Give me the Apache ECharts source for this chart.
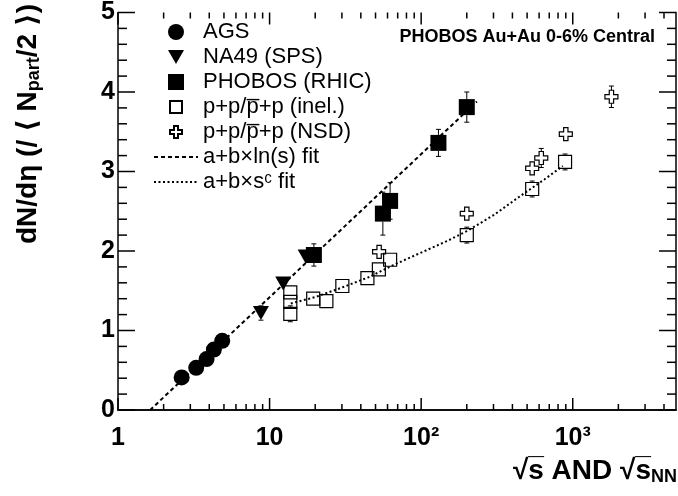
<!DOCTYPE html>
<html>
<head>
<meta charset="utf-8">
<script src="https://cdn.jsdelivr.net/npm/echarts@6/dist/echarts.min.js"></script>
<style>
  html, body { margin: 0; background: #fff; }
  #chart { width: 678px; height: 496px; }
</style>
</head>
<body>
<div id="chart"></div>
<script>
// values (x = sqrt(s) in GeV, y = dN/deta per participant pair)
const agsS = [2.63, 3.28, 3.84, 4.29, 4.87];
const agsY = [0.41, 0.53, 0.64, 0.76, 0.87];

const na49S = [8.77, 12.3, 17.3];
const na49Y = [1.22, 1.59, 1.93];
const na49Err = [0.09, 0.08, 0.08];

const phobosS = [19.6, 55.9, 62.4, 130, 200];
const phobosY = [1.95, 2.47, 2.63, 3.36, 3.81];
const phobosErr = [0.14, 0.27, 0.23, 0.17, 0.19];

const inelS = [13.7, 13.7, 13.7, 19.4, 23.7, 30.2, 44.2, 52.6, 62.4, 200, 540, 890];
const inelY = [1.48, 1.36, 1.21, 1.40, 1.37, 1.56, 1.66, 1.77, 1.89, 2.20, 2.78, 3.12];
const inelErr = [0.08, 0.08, 0.10, 0.08, 0.07, 0.08, 0.08, 0.08, 0.08, 0.10, 0.10, 0.10];

const nsdS = [52.8, 200, 540, 620, 900, 1800];
const nsdY = [1.99, 2.47, 3.04, 3.17, 3.47, 3.94];
const nsdErr = [0.07, 0.07, 0.08, 0.12, 0.08, 0.135];

const lnFitS = [1.63, 233];
const lnFitY = [0, 3.88];

const powFitS = [13.8, 20, 30, 45, 65, 100, 150, 200, 300, 450, 650, 860];
const powFitY = [1.34, 1.42, 1.54, 1.67, 1.82, 1.98, 2.13, 2.25, 2.45, 2.69, 2.90, 3.07];

const xMajorTicks = [1, 10, 100, 1000];
const xMajorLabels = ['1', '10', '10\u00b2', '10\u00b3'];
const xMinorTicks = [2, 3, 4, 5, 6, 7, 8, 9, 20, 30, 40, 50, 60, 70, 80, 90,
  200, 300, 400, 500, 600, 700, 800, 900, 2000, 3000, 4000];
const yMajorTicks = [0, 1, 2, 3, 4, 5];
const yMinorTicks = [0.2, 0.4, 0.6, 0.8, 1.2, 1.4, 1.6, 1.8, 2.2, 2.4, 2.6, 2.8,
  3.2, 3.4, 3.6, 3.8, 4.2, 4.4, 4.6, 4.8];

const legendNames = ['AGS', 'NA49 (SPS)', 'PHOBOS (RHIC)', 'p+p/p\u0305+p (inel.)',
  'p+p/p\u0305+p (NSD)', 'a+b\u00d7ln(s) fit', 'a+b\u00d7s\u1d9c fit'];

const font = 'Liberation Sans, Arial, Helvetica, DejaVu Sans, sans-serif';

function pairs(xs, ys) {
  return xs.map((x, i) => [x, ys[i]]);
}

// vertical error bars drawn outside the marker, with small caps
function errorBars(xs, ys, errs, gap) {
  return {
    type: 'custom',
    silent: true,
    z: 1,
    data: xs.map((x, i) => [x, ys[i], errs[i]]),
    renderItem: function (params, api) {
      const x = api.value(0), y = api.value(1), e = api.value(2);
      const c = api.coord([x, y]);
      const hi = api.coord([x, y + e]);
      const lo = api.coord([x, y - e]);
      const style = { stroke: '#000', lineWidth: 1 };
      const kids = [];
      if (c[1] - gap > hi[1]) {
        kids.push({ type: 'line', shape: { x1: c[0], y1: c[1] - gap, x2: c[0], y2: hi[1] }, style: style });
        kids.push({ type: 'line', shape: { x1: c[0] - 2.5, y1: hi[1], x2: c[0] + 2.5, y2: hi[1] }, style: style });
      }
      if (lo[1] > c[1] + gap) {
        kids.push({ type: 'line', shape: { x1: c[0], y1: c[1] + gap, x2: c[0], y2: lo[1] }, style: style });
        kids.push({ type: 'line', shape: { x1: c[0] - 2.5, y1: lo[1], x2: c[0] + 2.5, y2: lo[1] }, style: style });
      }
      return { type: 'group', children: kids };
    }
  };
}

// ROOT style inward ticks on all four sides of the frame
function xTicks(values, len) {
  return {
    type: 'custom', silent: true, z: 2,
    data: values.map(v => [v, 0]),
    renderItem: function (params, api) {
      const cs = params.coordSys;
      const x = api.coord([api.value(0), 0])[0];
      const style = { stroke: '#000', lineWidth: 1.5 };
      return {
        type: 'group', children: [
          { type: 'line', shape: { x1: x, y1: cs.y + cs.height, x2: x, y2: cs.y + cs.height - len }, style: style },
          { type: 'line', shape: { x1: x, y1: cs.y, x2: x, y2: cs.y + len }, style: style }
        ]
      };
    }
  };
}
function yTicks(values, len) {
  return {
    type: 'custom', silent: true, z: 2,
    data: values.map(v => [1, v]),
    renderItem: function (params, api) {
      const cs = params.coordSys;
      const y = api.coord([1, api.value(1)])[1];
      const style = { stroke: '#000', lineWidth: 1.5 };
      return {
        type: 'group', children: [
          { type: 'line', shape: { x1: cs.x, y1: y, x2: cs.x + len, y2: y }, style: style },
          { type: 'line', shape: { x1: cs.x + cs.width, y1: y, x2: cs.x + cs.width - len, y2: y }, style: style }
        ]
      };
    }
  };
}

const triPath = 'path://M0,0L16,0L8,14Z';
const crossPath = 'path://M4,0H8V4H12V8H8V12H4V8H0V4H4Z';
const filled = { color: '#000', opacity: 1 };
const hollow = { color: 'rgba(0,0,0,0)', borderColor: '#000', borderWidth: 1.2, opacity: 1 };
const frameLine = { show: true, lineStyle: { color: '#000', width: 1.5 } };

const chart = echarts.init(document.getElementById('chart'));

const logAxis = {
  type: 'log', logBase: 10, min: 1, max: 4800, gridIndex: 0,
  splitLine: { show: false },
  axisLine: frameLine,
  axisTick: { show: false }
};
const yBase = {
  type: 'value', min: 0, max: 5, interval: 1,
  splitLine: { show: false },
  axisLine: frameLine,
  axisTick: { show: false },
  minorTick: { show: false }
};

chart.setOption({
  animation: false,
  backgroundColor: '#fff',
  grid: { left: 118, right: 2, top: 8, bottom: 86 },
  xAxis: [
    Object.assign({}, logAxis, {
      position: 'bottom',
      axisLabel: {
        margin: 16,
        customValues: xMajorTicks,
        color: '#000', fontSize: 25, fontWeight: 'bold', fontFamily: font,
        formatter: function (v) {
          const i = xMajorTicks.indexOf(Math.round(v));
          return i >= 0 ? xMajorLabels[i] : '';
        }
      }
    }),
    Object.assign({}, logAxis, {
      position: 'top',
      axisLabel: { show: false }
    })
  ],
  yAxis: [
    Object.assign({}, yBase, {
      position: 'left',
      axisLabel: { margin: 3, color: '#000', fontSize: 25, fontWeight: 'bold', fontFamily: font }
    }),
    Object.assign({}, yBase, {
      position: 'right',
      axisLabel: { show: false }
    })
  ],
  legend: {
    orient: 'vertical',
    left: 153, top: 21,
    padding: 0,
    itemWidth: 44, itemHeight: 16, itemGap: 3,
    selectedMode: false,
    textStyle: { fontSize: 22, fontFamily: font, color: '#000' },
    data: [
      { name: legendNames[0], icon: 'circle' },
      { name: legendNames[1], icon: 'path://M0,-1M0,0L16,0L8,14ZM0,15' },
      { name: legendNames[2], icon: 'path://M0,0H16V16H0Z' },
      { name: legendNames[3], icon: 'path://M0,0M16,16M2,2H14V14H2Z' },
      { name: legendNames[4], icon: 'path://M0,0M16,16M6,2H10V6H14V10H10V14H6V10H2V6H6Z' },
      { name: legendNames[5] },
      { name: legendNames[6] }
    ]
  },
  graphic: [
    {
      type: 'text', x: 28, y: 4, rotation: Math.PI / 2,
      style: {
        text: 'dN/d\u03b7 (/ \u27e8 N{sub|part}/2 \u27e9)',
        fontSize: 28, fontWeight: 'bold', fontFamily: font, fill: '#000',
        align: 'right', verticalAlign: 'middle',
        rich: { sub: { fontSize: 18, fontWeight: 'bold', fontFamily: font, fill: '#000', padding: [13, 0, 0, 0] } }
      }
    },
    {
      type: 'text', x: 677, y: 471,
      style: {
        text: '\u221as\u0305 AND \u221as\u0305{sub|NN}',
        fontSize: 28, fontWeight: 'bold', fontFamily: font, fill: '#000',
        align: 'right', verticalAlign: 'middle',
        rich: { sub: { fontSize: 18, fontWeight: 'bold', fontFamily: font, fill: '#000', padding: [13, 0, 0, 0] } }
      }
    },
    {
      type: 'text', x: 655, y: 37,
      style: {
        text: 'PHOBOS Au+Au 0-6% Central',
        fontSize: 18, fontWeight: 'bold', fontFamily: font, fill: '#000',
        align: 'right', verticalAlign: 'middle'
      }
    }
  ],
  series: [
    xTicks(xMajorTicks, 12),
    xTicks(xMinorTicks, 6),
    yTicks(yMajorTicks, 17),
    yTicks(yMinorTicks, 9),
    {
      name: legendNames[5], type: 'line', data: pairs(lnFitS, lnFitY),
      symbol: 'none', silent: true, z: 1,
      itemStyle: { color: 'rgba(0,0,0,0)' },
      lineStyle: { color: '#000', width: 2, type: [4, 3] }
    },
    {
      name: legendNames[6], type: 'line', data: pairs(powFitS, powFitY),
      symbol: 'none', silent: true, z: 1,
      itemStyle: { color: 'rgba(0,0,0,0)' },
      lineStyle: { color: '#000', width: 2, type: [2, 2.5] }
    },
    errorBars(na49S, na49Y, na49Err, 7),
    errorBars(phobosS, phobosY, phobosErr, 8),
    errorBars(inelS, inelY, inelErr, 6.5),
    errorBars(nsdS, nsdY, nsdErr, 6.5),
    {
      name: legendNames[0], type: 'scatter', data: pairs(agsS, agsY),
      symbol: 'circle', symbolSize: 16, z: 3, itemStyle: filled
    },
    {
      name: legendNames[1], type: 'scatter', data: pairs(na49S, na49Y),
      symbol: triPath, symbolSize: [16, 14], z: 3, itemStyle: filled
    },
    {
      name: legendNames[2], type: 'scatter', data: pairs(phobosS, phobosY),
      symbol: 'rect', symbolSize: 16, z: 3, itemStyle: filled
    },
    {
      name: legendNames[3], type: 'scatter', data: pairs(inelS, inelY),
      symbol: 'rect', symbolSize: 13, z: 3, itemStyle: hollow
    },
    {
      name: legendNames[4], type: 'scatter', data: pairs(nsdS, nsdY),
      symbol: crossPath, symbolSize: 13, z: 3, itemStyle: hollow
    }
  ]
});

window.addEventListener('resize', function () {
  chart.resize();
});
</script>
</body>
</html>
